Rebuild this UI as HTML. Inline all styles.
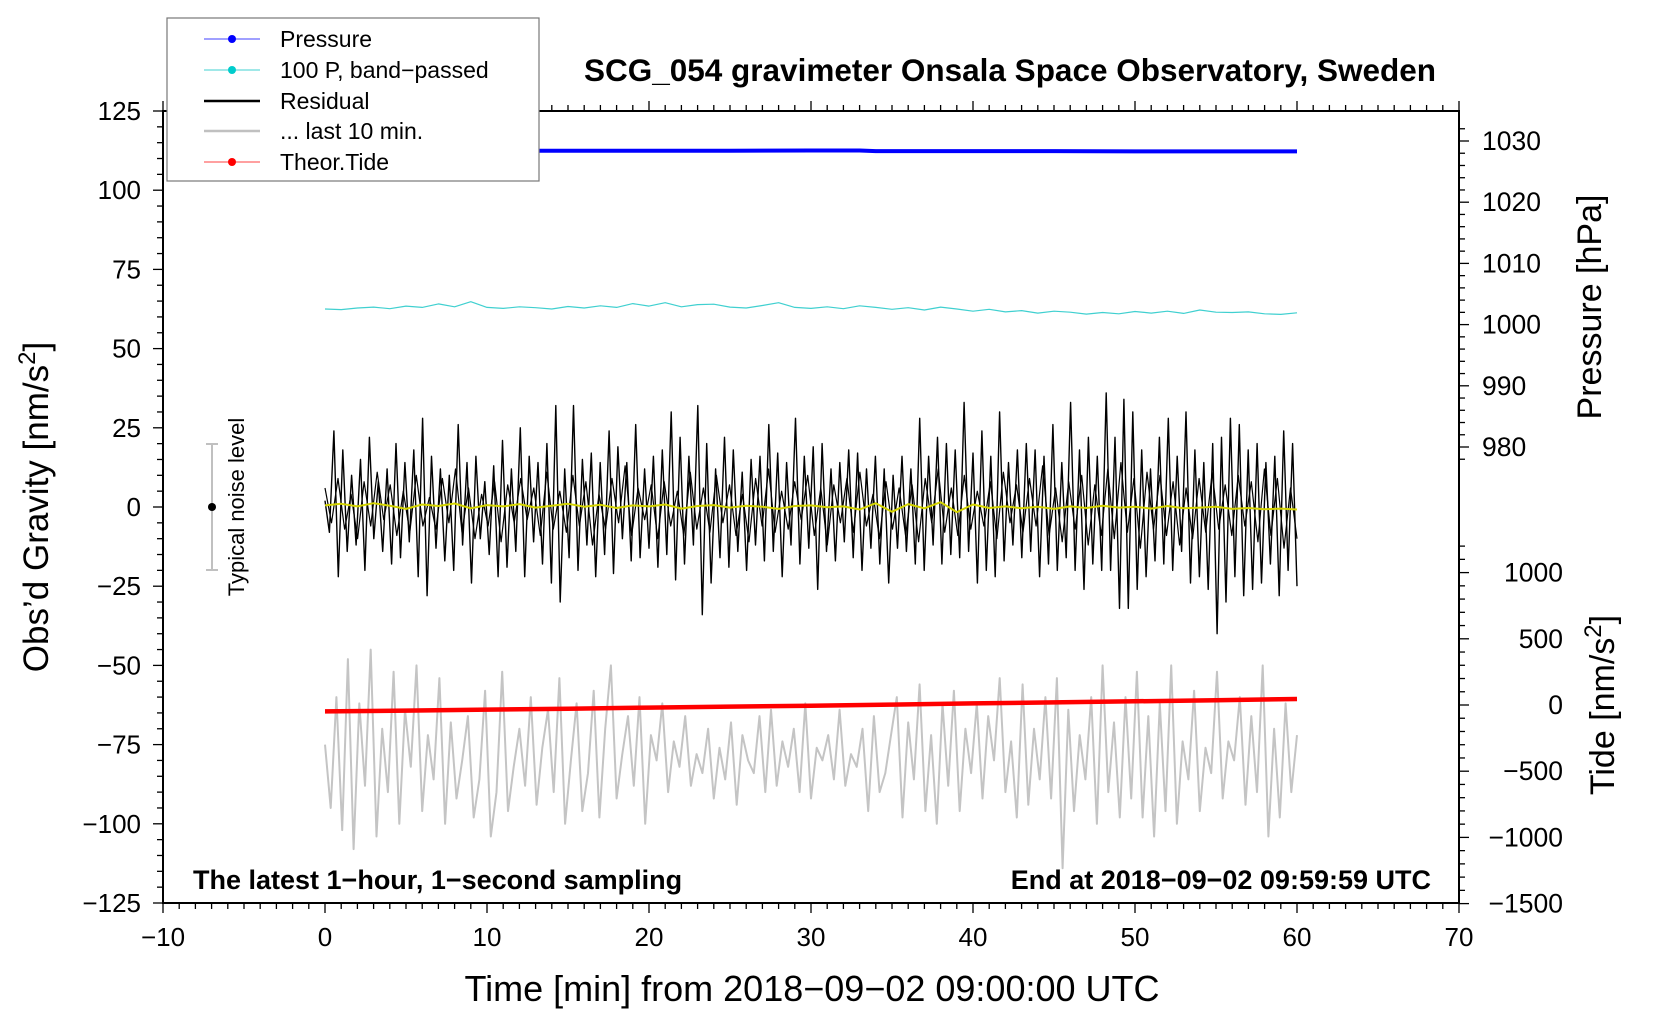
<!DOCTYPE html>
<html><head><meta charset="utf-8">
<style>
html,body{margin:0;padding:0;background:#fff;}
svg{display:block;font-family:"Liberation Sans",sans-serif;}
</style></head>
<body>
<svg id="chart" width="1660" height="1020" viewBox="0 0 1660 1020" xmlns="http://www.w3.org/2000/svg">
<rect x="0" y="0" width="1660" height="1020" fill="#fff"/>
<g id="series"></g>
<g id="axes"></g>
<text x="1010" y="81" text-anchor="middle" font-size="31.5" font-weight="bold">SCG_054 gravimeter Onsala Space Observatory, Sweden</text>
<text transform="translate(48,507) rotate(-90)" text-anchor="middle" font-size="35">Obs’d Gravity [nm/s<tspan dy="-13" font-size="24">2</tspan><tspan dy="13">]</tspan></text>
<text x="812" y="1001" text-anchor="middle" font-size="36">Time [min] from 2018−09−02 09:00:00 UTC</text>
<text transform="translate(1601,307) rotate(-90)" text-anchor="middle" font-size="34">Pressure [hPa]</text>
<text transform="translate(1614,705) rotate(-90)" text-anchor="middle" font-size="34">Tide [nm/s<tspan dy="-13" font-size="24">2</tspan><tspan dy="13">]</tspan></text>
<text x="193" y="889" font-size="27" font-weight="bold">The latest 1−hour, 1−second sampling</text>
<text x="1431" y="889" text-anchor="end" font-size="27" font-weight="bold">End at 2018−09−02 09:59:59 UTC</text>
<g>
<line x1="212" y1="444" x2="212" y2="570" stroke="#c0c0c0" stroke-width="2"/>
<line x1="206" y1="444" x2="218" y2="444" stroke="#c0c0c0" stroke-width="2"/>
<line x1="206" y1="570" x2="218" y2="570" stroke="#c0c0c0" stroke-width="2"/>
<circle cx="212" cy="507" r="4" fill="#000"/>
<text transform="translate(244,507) rotate(-90)" text-anchor="middle" font-size="22">Typical noise level</text>
</g>
<g>
<rect x="167" y="18" width="372" height="163" fill="#fff" stroke="#777" stroke-width="1.2"/>
<g><line x1="204" y1="39" x2="260" y2="39" stroke="#4040ff" stroke-width="1"/><circle cx="232" cy="39" r="4" fill="#0000ff"/><text x="280" y="47" font-size="23">Pressure</text></g>
<g><line x1="204" y1="70" x2="260" y2="70" stroke="#40d0d0" stroke-width="1"/><circle cx="232" cy="70" r="4" fill="#00cccc"/><text x="280" y="78" font-size="23">100 P, band−passed</text></g>
<g><line x1="204" y1="101" x2="260" y2="101" stroke="#000" stroke-width="2.5"/><text x="280" y="109" font-size="23">Residual</text></g>
<g><line x1="204" y1="131" x2="260" y2="131" stroke="#c0c0c0" stroke-width="2.5"/><text x="280" y="139" font-size="23">... last 10 min.</text></g>
<g><line x1="204" y1="162" x2="260" y2="162" stroke="#ff4040" stroke-width="1"/><circle cx="232" cy="162" r="4" fill="#ff0000"/><text x="280" y="170" font-size="23">Theor.Tide</text></g>
</g>
</svg>
<script>
// ---- data ----
const xTicks = [-10,0,10,20,30,40,50,60,70];
const yTicks = [125,100,75,50,25,0,-25,-50,-75,-100,-125];
const pTicks = [1030,1020,1010,1000,990,980];
const tTicks = [1000,500,0,-500,-1000,-1500];
const pressureTimes = [0,5,10,15,20,25,30,33,34,40,45,50,55,60];
const pressureValues = [1028.4,1028.4,1028.4,1028.4,1028.4,1028.4,1028.45,1028.45,1028.35,1028.35,1028.35,1028.3,1028.3,1028.3];
const tideTimes = [0,5,10,15,20,25,30,35,40,45,50,55,60];
const tideValues = [-48,-42,-35,-28,-20,-12,-5,3,12,20,28,36,45];
const bandPassed = [62.5,62.3,62.8,63.1,62.6,63.4,63.0,64.1,63.2,64.8,63.0,62.7,63.2,62.9,62.5,63.3,62.8,63.5,63.0,64.2,63.4,64.5,63.2,63.9,64.0,63.1,62.8,63.6,64.5,63.0,62.7,63.2,62.6,63.5,63.0,62.4,62.9,62.2,63.1,62.5,61.8,62.4,61.6,62.0,61.2,61.8,61.5,60.9,61.4,61.0,61.7,61.2,61.8,61.1,62.2,61.5,61.4,61.6,61.0,60.8,61.3];
const smoothResid = [0.5,1.0,0.2,1.2,0.4,-0.6,0.8,0.3,1.1,-0.4,0.6,0.2,0.9,-0.2,0.4,1.0,0.1,0.7,-0.3,0.5,0.2,0.8,-0.5,0.3,0.6,-0.2,0.4,0.1,-0.6,0.3,0.5,-0.1,0.2,-0.8,1.2,-1.5,0.9,-0.4,1.5,-1.6,0.8,-0.3,0.2,-0.4,0.1,-0.6,0.2,-0.3,0.4,-0.2,0.1,-0.5,0.3,-0.4,-0.2,0.1,-0.6,-0.3,-0.7,-0.5,-0.8];
const residual = [
2,-8,24,-22,18,-14,10,-12,15,-20,22,-10,8,-14,12,-18,20,-16,14,-11,
18,-22,28,-28,16,-13,12,-17,10,-20,26,-12,14,-24,16,-10,8,-15,13,-22,
21,-19,12,-14,25,-22,16,-11,14,-18,20,-24,32,-30,12,-16,32,-20,15,-12,
17,-22,14,-15,24,-21,19,-10,14,-17,26,-16,12,-13,16,-19,18,-15,30,-23,
22,-18,16,-12,32,-34,20,-24,12,-16,22,-19,18,-14,11,-20,15,-12,16,-17,
26,-14,17,-22,14,-12,28,-18,16,-13,19,-26,20,-14,12,-17,14,-11,18,-16,
17,-20,12,-13,16,-18,12,-24,10,-13,16,-14,12,-18,28,-20,16,-12,22,-18,
20,-15,18,-16,33,-14,17,-24,24,-20,16,-22,30,-17,14,-12,18,-16,20,-14,
18,-22,16,-18,26,-20,14,-16,33,-20,18,-26,22,-18,16,-20,36,-20,22,-32,
34,-32,30,-26,18,-22,12,-17,22,-18,28,-20,16,-14,30,-24,18,-22,14,-26,
20,-40,22,-30,28,-22,26,-28,18,-26,20,-24,14,-18,16,-28,24,-20,20,-25
];
const residualFine = [
6,-5,9,-7,4,-10,8,-6,11,-4,7,-9,5,-8,10,-6,3,-7,9,-5,12,-8,6,-10,4,-6,8,-11,7,-5,
9,-4,6,-9,11,-7,5,-8,10,-6,8,-12,4,-7,9,-5,13,-9,6,-4,7,-10,8,-6,5,-9,11,-7,6,-8,
10,-5,7,-9,4,-11,9,-6,12,-8,5,-7,8,-4,10,-9,6,-12,7,-5,9,-8,11,-6,4,-10,8,-7,6,-9,
7,-11,9,-5,12,-8,6,-9,10,-7,5,-6,8,-10,11,-5,7,-8,9,-6,13,-9,6,-11,8,-7,10,-12,7,-9,
12,-10,14,-8,9,-13,11,-7,10,-9,8,-12,6,-10,9,-8,11,-7,7,-9,10,-6,8,-11,12,-9,9,-13,6,-10
];
const lastTen = [
-75,-95,-60,-102,-48,-108,-62,-88,-45,-104,-70,-90,-52,-100,-64,-82,-50,-96,-72,-86,
-54,-100,-68,-92,-80,-66,-98,-86,-58,-104,-90,-52,-96,-82,-70,-88,-60,-94,-76,-64,
-90,-54,-100,-80,-62,-96,-84,-58,-98,-70,-50,-92,-78,-66,-88,-60,-100,-72,-80,-62,
-90,-74,-82,-66,-88,-78,-84,-70,-92,-76,-86,-68,-94,-72,-80,-84,-66,-90,-64,-88,
-74,-82,-70,-90,-62,-92,-76,-80,-72,-86,-64,-88,-78,-82,-70,-96,-66,-90,-84,-72,
-60,-98,-68,-86,-56,-96,-72,-100,-62,-88,-58,-96,-70,-84,-62,-92,-66,-80,-54,-90,
-74,-98,-56,-94,-70,-86,-60,-92,-54,-114,-64,-96,-72,-86,-60,-100,-50,-90,-68,-98,
-60,-92,-52,-98,-66,-104,-62,-96,-50,-100,-74,-86,-58,-96,-76,-84,-52,-92,-74,-80,
-60,-94,-66,-90,-50,-104,-70,-98,-62,-90,-72
];
// ---- scales ----
const X0=163, X1=1459, Y0=111, Y1=903;
function xs(m){return X0+(m+10)*(X1-X0)/80;}
function yg(v){return Y0+(125-v)*(Y1-Y0)/250;}
function yp(p){return 141+(1030-p)*6.12;}
function yt(t){return 705-t*0.1324;}
const NS="http://www.w3.org/2000/svg";
function mk(tag,attrs,parent){const e=document.createElementNS(NS,tag);for(const k in attrs)e.setAttribute(k,attrs[k]);parent.appendChild(e);return e;}
const S=document.getElementById('series'), A=document.getElementById('axes');
function poly(xsArr,ysArr,color,w,name){
  let pts=xsArr.map((x,i)=>x.toFixed(1)+','+ysArr[i].toFixed(1)).join(' ');
  const p=mk('polyline',{points:pts,fill:'none',stroke:color,'stroke-width':w,'stroke-linejoin':'round'},S);
  
  
  return p;
}
poly(lastTen.map((v,i)=>xs(i*60/(lastTen.length-1))),lastTen.map(yg),'#c4c4c4',2,'last-10-min-line');
poly(residualFine.map((v,i)=>xs(i*60/(residualFine.length-1))),residualFine.map(yg),'#000',1.2,'residual-fine-line');
poly(residual.map((v,i)=>xs(i*60/(residual.length-1))),residual.map(yg),'#000',1.4,'residual-line');
poly(smoothResid.map((v,i)=>xs(i*60/(smoothResid.length-1))),smoothResid.map(yg),'#d4d400',2,'residual-smoothed-line');
poly(bandPassed.map((v,i)=>xs(i*60/(bandPassed.length-1))),bandPassed.map(yg),'#40d0d0',1.2,'band-passed-pressure-line');
poly(pressureTimes.map(xs),pressureValues.map(yp),'#0000ff',4,'pressure-line');
poly(tideTimes.map(xs),tideValues.map(yt),'#ff0000',4.5,'tide-line');
const fr=mk('rect',{x:X0,y:Y0,width:X1-X0,height:Y1-Y0,fill:'none',stroke:'#000','stroke-width':2},A);


for(let m=-10;m<=70;m++){
  const major=(m%10===0);const L=major?10:6;const x=xs(m);
  mk('line',{x1:x,y1:Y1,x2:x,y2:Y1+L,stroke:'#000','stroke-width':1.3},A);
  mk('line',{x1:x,y1:Y0,x2:x,y2:Y0-L,stroke:'#000','stroke-width':1.3},A);
}
xTicks.forEach(m=>{
  const t=mk('text',{x:xs(m),y:Y1+43,'text-anchor':'middle','font-size':26},A);
  t.textContent=(m<0?'−'+(-m):''+m);
  
  
});
for(let v=-125;v<=125;v+=5){
  const major=(v%25===0);const L=major?10:6;const y=yg(v);
  mk('line',{x1:X0,y1:y,x2:X0-L,y2:y,stroke:'#000','stroke-width':1.3},A);
}
yTicks.forEach(v=>{
  const t=mk('text',{x:X0-22,y:yg(v)+9,'text-anchor':'end','font-size':26},A);
  t.textContent=(v<0?'−'+(-v):''+v);
  
  
});
for(let p=978;p<=1032;p+=2){
  const y=yp(p);if(y<Y0)continue;const L=(p%10===0)?10:6;
  mk('line',{x1:X1,y1:y,x2:X1+L,y2:y,stroke:'#000','stroke-width':1.3},A);
}
pTicks.forEach(p=>{
  const t=mk('text',{x:X1+23,y:yp(p)+9,'font-size':26.5},A);
  t.textContent=''+p;
  
  
});
for(let v=-1500;v<=1200;v+=100){
  const y=yt(v);const L=(v%500===0)?10:6;
  mk('line',{x1:X1,y1:y,x2:X1+L,y2:y,stroke:'#000','stroke-width':1.3},A);
}
tTicks.forEach(v=>{
  const t=mk('text',{x:X1+104,y:yt(v)+9,'text-anchor':'end','font-size':26.5},A);
  t.textContent=(v<0?'−'+(-v):''+v);
  
  
});
</script>
</body></html>
